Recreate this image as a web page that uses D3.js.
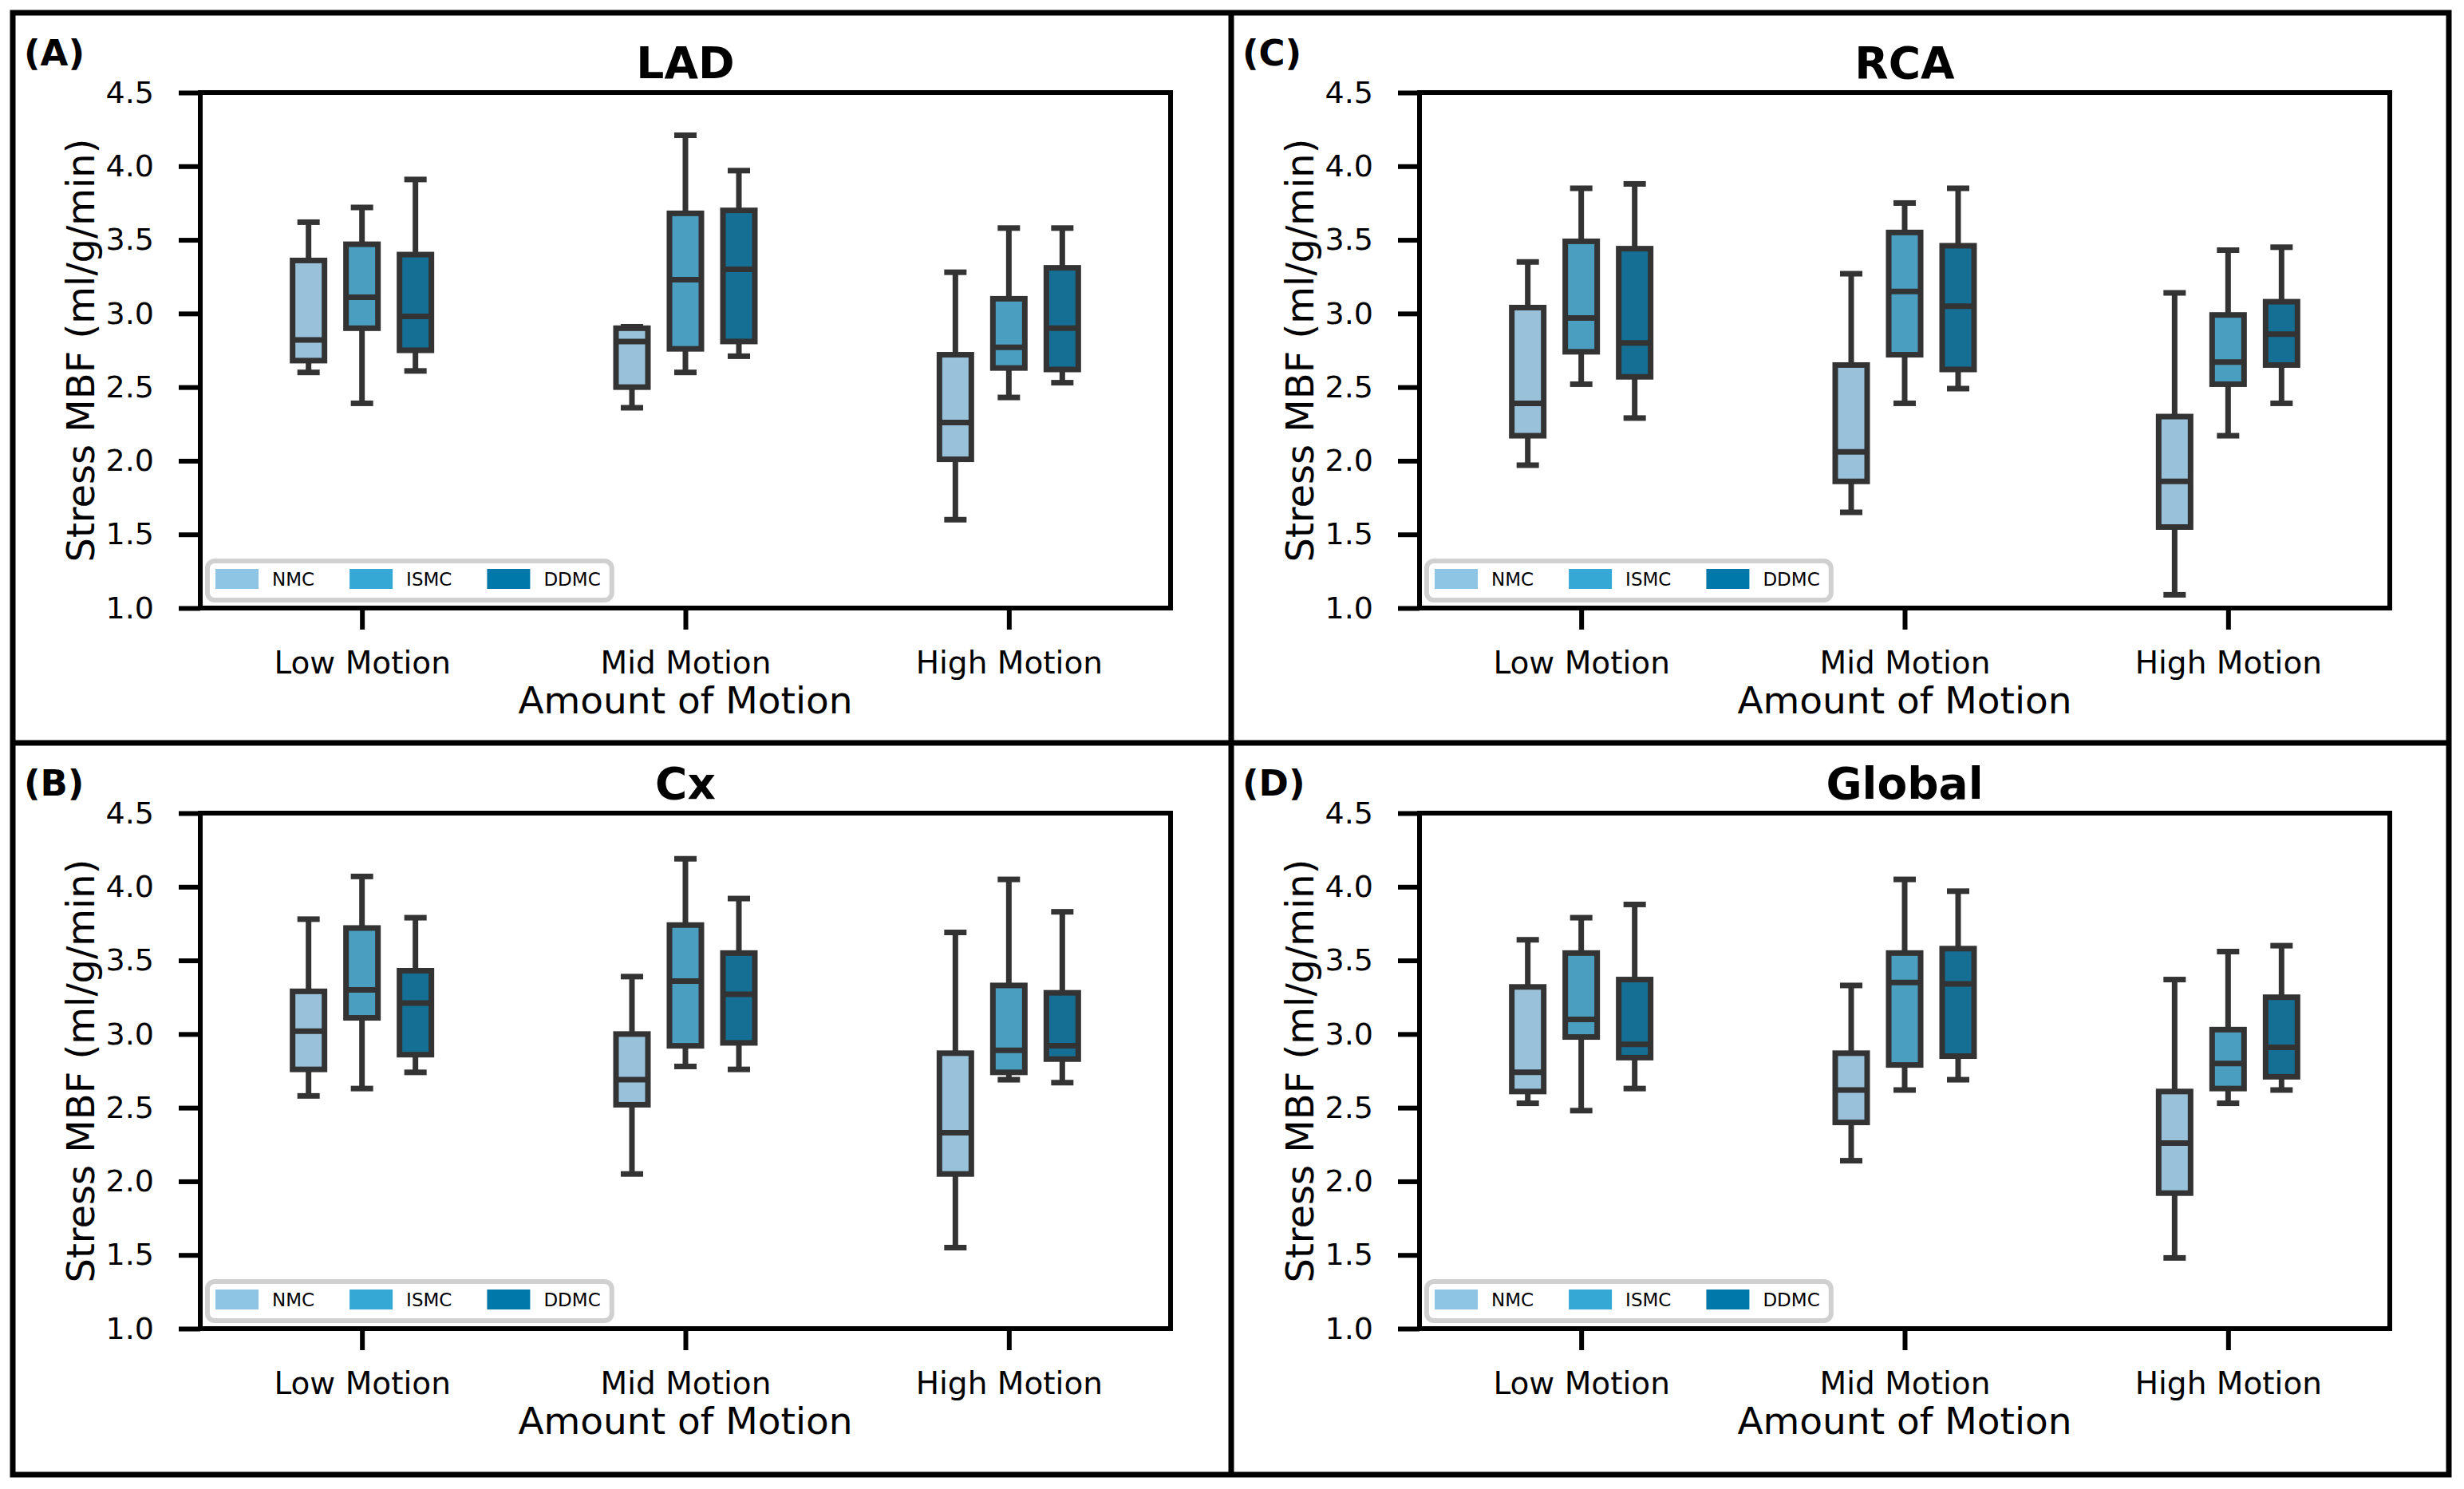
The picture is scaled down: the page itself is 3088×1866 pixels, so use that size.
<!DOCTYPE html>
<html>
<head>
<meta charset="utf-8">
<script src="https://cdn.jsdelivr.net/npm/d3@7"></script>
<style>
  body { margin: 0; background: #fff; }
  text { font-family: "DejaVu Sans", sans-serif; fill: #000; }
</style>
</head>
<body>
<div id="wrapper"></div>
<script>
// Categories and hues
const motions = ["Low Motion", "Mid Motion", "High Motion"];
const methods = ["NMC", "ISMC", "DDMC"];
const methodColors = ["#8ec5e5", "#36a8d5", "#0078aa"];
const yTicks = [1.0, 1.5, 2.0, 2.5, 3.0, 3.5, 4.0, 4.5];

// [lower whisker, q1, median, q3, upper whisker] for Low / Mid / High motion
const ladNMC  = [[2.60, 2.68, 2.82, 3.36, 3.62], [2.36, 2.50, 2.81, 2.90, 2.91], [1.60, 2.01, 2.26, 2.72, 3.28]];
const ladISMC = [[2.39, 2.90, 3.11, 3.47, 3.72], [2.60, 2.76, 3.23, 3.68, 4.21], [2.43, 2.63, 2.77, 3.10, 3.58]];
const ladDDMC = [[2.61, 2.75, 2.98, 3.40, 3.91], [2.71, 2.81, 3.30, 3.70, 3.97], [2.53, 2.62, 2.90, 3.31, 3.58]];

const rcaNMC  = [[1.97, 2.17, 2.39, 3.04, 3.35], [1.65, 1.86, 2.06, 2.65, 3.27], [1.09, 1.55, 1.86, 2.30, 3.14]];
const rcaISMC = [[2.52, 2.74, 2.97, 3.49, 3.85], [2.39, 2.72, 3.15, 3.55, 3.75], [2.17, 2.52, 2.67, 2.99, 3.43]];
const rcaDDMC = [[2.29, 2.57, 2.80, 3.44, 3.88], [2.49, 2.62, 3.05, 3.46, 3.85], [2.39, 2.65, 2.86, 3.08, 3.45]];

const cxNMC  = [[2.58, 2.76, 3.02, 3.29, 3.78], [2.05, 2.52, 2.69, 3.00, 3.39], [1.55, 2.05, 2.33, 2.87, 3.69]];
const cxISMC = [[2.63, 3.11, 3.30, 3.72, 4.07], [2.78, 2.92, 3.36, 3.74, 4.19], [2.69, 2.74, 2.89, 3.33, 4.05]];
const cxDDMC = [[2.74, 2.86, 3.21, 3.43, 3.79], [2.76, 2.94, 3.27, 3.55, 3.92], [2.67, 2.83, 2.92, 3.28, 3.83]];

const globalNMC  = [[2.53, 2.61, 2.74, 3.32, 3.64], [2.14, 2.40, 2.62, 2.87, 3.33], [1.48, 1.92, 2.26, 2.61, 3.37]];
const globalISMC = [[2.48, 2.98, 3.10, 3.55, 3.79], [2.62, 2.79, 3.35, 3.55, 4.05], [2.53, 2.63, 2.80, 3.03, 3.56]];
const globalDDMC = [[2.63, 2.84, 2.93, 3.37, 3.88], [2.69, 2.85, 3.34, 3.58, 3.97], [2.62, 2.71, 2.91, 3.25, 3.60]];

const panelTitles = ["LAD", "RCA", "Cx", "Global"];
const panelLetters = ["(A)", "(C)", "(B)", "(D)"];
const panelStats = [
    [ladNMC, ladISMC, ladDDMC],
    [rcaNMC, rcaISMC, rcaDDMC],
    [cxNMC, cxISMC, cxDDMC],
    [globalNMC, globalISMC, globalDDMC],
];

const drawChart = () => {
    const dimensions = {
        width: 3088,
        height: 1866,
        frame: { left: 16, top: 16, right: 3069, bottom: 1848, midX: 1543, midY: 931 },
        plotLefts: [251, 1779],
        plotTops: [116, 1019],
        plotWidth: 1216,
        plotHeight: 646,
    };
    const lineColor = "#333333";
    const boxColors = methodColors.map(c => {
        const h = d3.hsl(c);
        h.s *= 0.75;
        return h.formatHex();
    });

    const wrapper = d3.select("#wrapper")
        .append("svg")
        .attr("width", dimensions.width)
        .attr("height", dimensions.height);

    // Outer frame and dividers
    const f = dimensions.frame;
    wrapper.append("rect")
        .attr("x", f.left).attr("y", f.top)
        .attr("width", f.right - f.left).attr("height", f.bottom - f.top)
        .attr("fill", "none").attr("stroke", "#000").attr("stroke-width", 7);
    wrapper.append("line")
        .attr("x1", f.midX).attr("x2", f.midX).attr("y1", f.top).attr("y2", f.bottom)
        .attr("stroke", "#000").attr("stroke-width", 7);
    wrapper.append("line")
        .attr("x1", f.left).attr("x2", f.right).attr("y1", f.midY).attr("y2", f.midY)
        .attr("stroke", "#000").attr("stroke-width", 7);

    // Scales (shared geometry)
    const xScale = d3.scalePoint()
        .domain(motions)
        .range([0, dimensions.plotWidth])
        .padding(0.5);
    const hueScale = d3.scalePoint()
        .domain(methods)
        .range([-67, 67]);
    const yScale = d3.scaleLinear()
        .domain([1.0, 4.5])
        .range([dimensions.plotHeight, 0]);

    const boxWidth = 40;
    const capWidth = 28;

    panelStats.forEach((stats, i) => {
        const col = i % 2;
        const row = Math.floor(i / 2);
        const cellLeft = col === 0 ? f.left : f.midX;
        const cellTop = row === 0 ? f.top : f.midY;
        const left = dimensions.plotLefts[col];
        const top = dimensions.plotTops[row];
        const w = dimensions.plotWidth;
        const h = dimensions.plotHeight;

        // Panel letter
        wrapper.append("text")
            .attr("x", cellLeft + 14)
            .attr("y", cellTop + 66)
            .style("font-size", "45px")
            .style("font-weight", "bold")
            .text(panelLetters[i]);

        const bounds = wrapper.append("g")
            .attr("transform", `translate(${left}, ${top})`);

        // Title
        bounds.append("text")
            .attr("x", w / 2)
            .attr("y", -18)
            .attr("text-anchor", "middle")
            .style("font-size", "55px")
            .style("font-weight", "bold")
            .text(panelTitles[i]);

        // Axes
        const yAxis = bounds.append("g")
            .call(d3.axisLeft(yScale).tickValues(yTicks).tickFormat(d3.format(".1f")).tickSize(27).tickPadding(31));
        const xAxis = bounds.append("g")
            .attr("transform", `translate(0, ${h})`)
            .call(d3.axisBottom(xScale).tickSize(27).tickPadding(27));
        [yAxis, xAxis].forEach(ax => {
            ax.select(".domain").remove();
            ax.selectAll(".tick line").attr("stroke", "#000").attr("stroke-width", 6);
            ax.selectAll(".tick text")
                .attr("fill", "#000")
                .style("font-family", "'DejaVu Sans', sans-serif")
                .style("font-size", "38px");
        });
        xAxis.selectAll(".tick text").attr("dy", "0.71em").style("font-size", "39px");

        // Box plots
        stats.forEach((series, m) => {
            const groups = bounds.append("g").selectAll("g")
                .data(series.map((s, k) => ({ motion: motions[k], s })))
                .join("g")
                .attr("transform", d => `translate(${xScale(d.motion) + hueScale(methods[m])}, 0)`);
            // whiskers
            groups.append("line")
                .attr("x1", 0).attr("x2", 0)
                .attr("y1", d => yScale(d.s[0])).attr("y2", d => yScale(d.s[1]))
                .attr("stroke", lineColor).attr("stroke-width", 7);
            groups.append("line")
                .attr("x1", 0).attr("x2", 0)
                .attr("y1", d => yScale(d.s[3])).attr("y2", d => yScale(d.s[4]))
                .attr("stroke", lineColor).attr("stroke-width", 7);
            // caps
            [0, 4].forEach(k => {
                groups.append("line")
                    .attr("x1", -capWidth / 2).attr("x2", capWidth / 2)
                    .attr("y1", d => yScale(d.s[k])).attr("y2", d => yScale(d.s[k]))
                    .attr("stroke", lineColor).attr("stroke-width", 7);
            });
            // box
            groups.append("rect")
                .attr("x", -boxWidth / 2)
                .attr("width", boxWidth)
                .attr("y", d => yScale(d.s[3]))
                .attr("height", d => yScale(d.s[1]) - yScale(d.s[3]))
                .attr("fill", boxColors[m])
                .attr("stroke", lineColor).attr("stroke-width", 7);
            // median
            groups.append("line")
                .attr("x1", -boxWidth / 2).attr("x2", boxWidth / 2)
                .attr("y1", d => yScale(d.s[2])).attr("y2", d => yScale(d.s[2]))
                .attr("stroke", lineColor).attr("stroke-width", 7);
        });

        // Plot frame
        bounds.append("rect")
            .attr("width", w).attr("height", h)
            .attr("fill", "none").attr("stroke", "#000").attr("stroke-width", 6);

        // Axis labels
        bounds.append("text")
            .attr("x", w / 2)
            .attr("y", h + 132)
            .attr("text-anchor", "middle")
            .style("font-size", "47px")
            .text("Amount of Motion");
        bounds.append("text")
            .attr("transform", `translate(-133, ${h / 2}) rotate(-90)`)
            .attr("text-anchor", "middle")
            .style("font-size", "48px")
            .text("Stress MBF (ml/g/min)");

        // Legend
        const legend = bounds.append("g")
            .attr("transform", `translate(9, ${h - 59})`);
        const legendFrame = legend.append("rect")
            .attr("height", 49).attr("rx", 9)
            .attr("fill", "#fff").attr("fill-opacity", 0.8)
            .attr("stroke", "#d0d0d0").attr("stroke-width", 6);
        let cursor = 10;
        methods.forEach((name, m) => {
            legend.append("rect")
                .attr("x", cursor).attr("y", 10)
                .attr("width", 54).attr("height", 25)
                .attr("fill", methodColors[m]);
            const label = legend.append("text")
                .attr("x", cursor + 71)
                .attr("y", 31)
                .style("font-size", "23px")
                .text(name);
            cursor += 71 + label.node().getComputedTextLength() + (m < methods.length - 1 ? 44 : 14);
        });
        legendFrame.attr("width", cursor);
    });
};
drawChart();
</script>
</body>
</html>
